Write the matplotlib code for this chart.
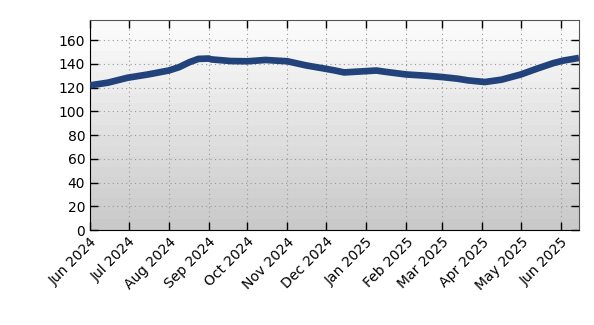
import numpy as np
import pandas as pd
import matplotlib
matplotlib.use("Agg")
import matplotlib.pyplot as plt
import matplotlib.dates as mdates

# values
dates = ["2024-06-01", "2024-06-15", "2024-06-30", "2024-07-16", "2024-08-01",
         "2024-08-09", "2024-08-17", "2024-08-24", "2024-09-01", "2024-09-03",
         "2024-09-18", "2024-10-01", "2024-10-15", "2024-11-01", "2024-11-16",
         "2024-12-01", "2024-12-08", "2024-12-15", "2025-01-01", "2025-01-09",
         "2025-01-16", "2025-02-01", "2025-02-17", "2025-03-01", "2025-03-13",
         "2025-03-21", "2025-04-03", "2025-04-16", "2025-05-01", "2025-05-13",
         "2025-05-26", "2025-06-03", "2025-06-15"]
values = [121.9, 124.2, 128.3, 131.1, 134.4,
          137.2, 141.4, 144.2, 144.5, 143.8,
          142.4, 142.2, 143.3, 142.2, 138.6,
          135.8, 134.4, 132.8, 133.9, 134.4,
          133.3, 131.1, 130.0, 128.9, 127.5,
          126.1, 124.7, 126.7, 131.1, 135.8,
          140.6, 142.8, 145.0]
yticks = [0, 20, 40, 60, 80, 100, 120, 140, 160]

x = pd.to_datetime(dates)

fig = plt.figure(figsize=(5.94, 3.25), dpi=100)
ax = fig.add_axes([0.1515, 0.2923, 0.8232, 0.6462])

xmin = mdates.date2num(pd.Timestamp("2024-06-01"))
xmax = mdates.date2num(pd.Timestamp("2025-06-15"))
ymin, ymax = 0, 177

# banded grey gradient, light at top, darker at bottom
shade = np.linspace(0.79, 0.99, 20)
img = np.repeat(shade.reshape(-1, 1, 1), 3, axis=2)
ax.imshow(img, aspect="auto", extent=[xmin, xmax, ymin, ymax], origin="lower",
          interpolation="nearest", zorder=0)

ax.plot(x, values, color="#21427a", lw=4.8, solid_capstyle="butt",
        solid_joinstyle="round", zorder=3)

ax.set_xlim(xmin, xmax)
ax.set_ylim(ymin, ymax)
ax.set_yticks(yticks)
ax.xaxis.set_major_locator(mdates.MonthLocator())
ax.xaxis.set_major_formatter(mdates.DateFormatter("%b %Y"))
plt.setp(ax.get_xticklabels(), rotation=45, ha="right", rotation_mode="anchor")

ax.grid(True, linestyle=(0, (1, 3)), color="#999999", linewidth=0.8)
ax.tick_params(direction="in", length=6, width=1, top=True, right=True,
               labelsize=10)
for s in ["top", "right"]:
    ax.spines[s].set_color("#555555")

fig.savefig("out.png", dpi=100)
